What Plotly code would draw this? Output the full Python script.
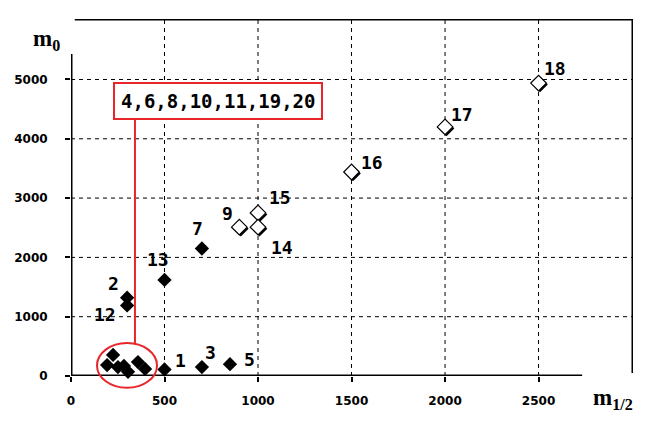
import plotly.graph_objects as go

# data

filled_x = [500, 300, 700, 850, 700, 300, 500]
filled_y = [110, 1320, 150, 200, 2150, 1190, 1620]
filled_lab = ['1', '2', '3', '5', '7', '12', '13']

# unlabelled cluster: 4,6,8,10,11,19,20
cluster_x = [225, 193, 251, 283, 305, 358, 396]
cluster_y = [355, 185, 150, 170, 70, 235, 120]
cluster_text = '4,6,8,10,11,19,20'

open_x = [900, 1000, 1000, 1500, 2000, 2500]
open_y = [2510, 2750, 2510, 3440, 4200, 4940]
open_lab = ['9', '15', '14', '16', '17', '18']

x_ticks = [0, 500, 1000, 1500, 2000, 2500]
y_ticks = [0, 1000, 2000, 3000, 4000, 5000]

# label offsets in px (dx, dy up)
filled_off = [(16, 9), (-14, 14), (9, 15), (20, 5), (-4, 20), (-22, -9), (-7, 20)]
open_off = [(-12, 14), (22, 15), (24, -20), (20, 10), (17, 12), (16, 15)]

XMAX = 3005
YMAX = 6020
RED = '#e8262a'
lab_font = dict(family='DejaVu Sans Mono', size=18, color='black', weight='bold')
tick_font = dict(family='DejaVu Sans', size=12, color='black', weight='bold')
title_font = dict(family='Liberation Serif', size=23, color='black', weight='bold')

fig = go.Figure()

fig.add_trace(go.Scatter(
    x=filled_x + cluster_x, y=filled_y + cluster_y, mode='markers',
    marker=dict(symbol='diamond', size=11, color='black'),
    cliponaxis=False, showlegend=False
))

# shadow under the open diamonds, drawn on a slightly shifted twin axis pair
fig.add_trace(go.Scatter(
    x=open_x, y=open_y, mode='markers', xaxis='x2', yaxis='y2',
    marker=dict(symbol='diamond', size=12, color='black'),
    cliponaxis=False, showlegend=False
))

fig.add_trace(go.Scatter(
    x=open_x, y=open_y, mode='markers', xaxis='x3', yaxis='y3',
    marker=dict(symbol='diamond', size=12, color='white',
                line=dict(color='black', width=1.2)),
    cliponaxis=False, showlegend=False
))

anns = []
for x, y, t, (dx, dy) in zip(filled_x + open_x, filled_y + open_y,
                             filled_lab + open_lab, filled_off + open_off):
    anns.append(dict(x=x, y=y, text=t, showarrow=False, xshift=dx, yshift=dy,
                     font=lab_font))

# boxed label for the cluster
anns.append(dict(x=786, y=4630, text=cluster_text, showarrow=False,
                 font=dict(lab_font, size=19), bordercolor=RED, borderwidth=2,
                 borderpad=6, bgcolor='white'))

# axis titles
anns.append(dict(x=-0.072, y=0.985, xref='paper', yref='paper', xanchor='left',
                 text='m<sub>0</sub>', showarrow=False, font=title_font))
anns.append(dict(x=0.925, y=-0.11, xref='paper', yref='paper', xanchor='left',
                 text='m<sub>1/2</sub>', showarrow=False, font=title_font))

shapes = []
# dashed grid
for v in x_ticks[1:]:
    shapes.append(dict(type='line', x0=v, x1=v, y0=0, y1=YMAX,
                       line=dict(color='black', width=1, dash='4px,4px'), layer='below'))
for v in y_ticks[1:]:
    shapes.append(dict(type='line', x0=0, x1=XMAX, y0=v, y1=v,
                       line=dict(color='black', width=1, dash='4px,4px'), layer='below'))

# frame pieces
shapes.append(dict(type='line', x0=0, x1=0, y0=0, y1=5430, line=dict(color='black', width=3)))
shapes.append(dict(type='line', x0=0, x1=2733, y0=0, y1=0, line=dict(color='black', width=3)))
shapes.append(dict(type='line', x0=20, x1=XMAX, y0=YMAX, y1=YMAX, line=dict(color='black', width=3)))
shapes.append(dict(type='line', x0=XMAX, x1=XMAX, y0=YMAX, y1=50, line=dict(color='black', width=3)))

# red ellipse round the cluster + leader line to the box
e_x0, e_x1, e_y0, e_y1 = 139, 460, -200, 556
shapes.append(dict(type='circle', xref='paper', yref='paper',
                   x0=e_x0 / XMAX, x1=e_x1 / XMAX, y0=e_y0 / YMAX, y1=e_y1 / YMAX,
                   line=dict(color=RED, width=2)))
shapes.append(dict(type='line', x0=342, x1=342, y0=556, y1=4317,
                   line=dict(color=RED, width=2)))

# page body adds 8px, so margins are shifted by that
fig.update_layout(
    width=660, height=421,
    margin=dict(l=63, r=35, t=11, b=53),
    plot_bgcolor='white', paper_bgcolor='white',
    annotations=anns, shapes=shapes,
    xaxis=dict(range=[0, XMAX], tickvals=x_ticks, showgrid=False, zeroline=False,
               showline=False, ticks='outside', ticklen=5, tickwidth=2, tickcolor='black',
               ticklabelstandoff=9, automargin=False, tickfont=tick_font),
    yaxis=dict(range=[0, YMAX], tickvals=y_ticks, showgrid=False, zeroline=False,
               showline=False, ticks='outside', ticklen=5, tickwidth=2, tickcolor='black',
               ticklabelstandoff=15, automargin=False, tickfont=tick_font),
    xaxis2=dict(range=[-8, XMAX - 8], overlaying='x', visible=False),
    yaxis2=dict(range=[25, YMAX + 25], overlaying='y', visible=False),
    xaxis3=dict(range=[0, XMAX], overlaying='x', visible=False),
    yaxis3=dict(range=[0, YMAX], overlaying='y', visible=False),
)

fig.write_html("out.html")
